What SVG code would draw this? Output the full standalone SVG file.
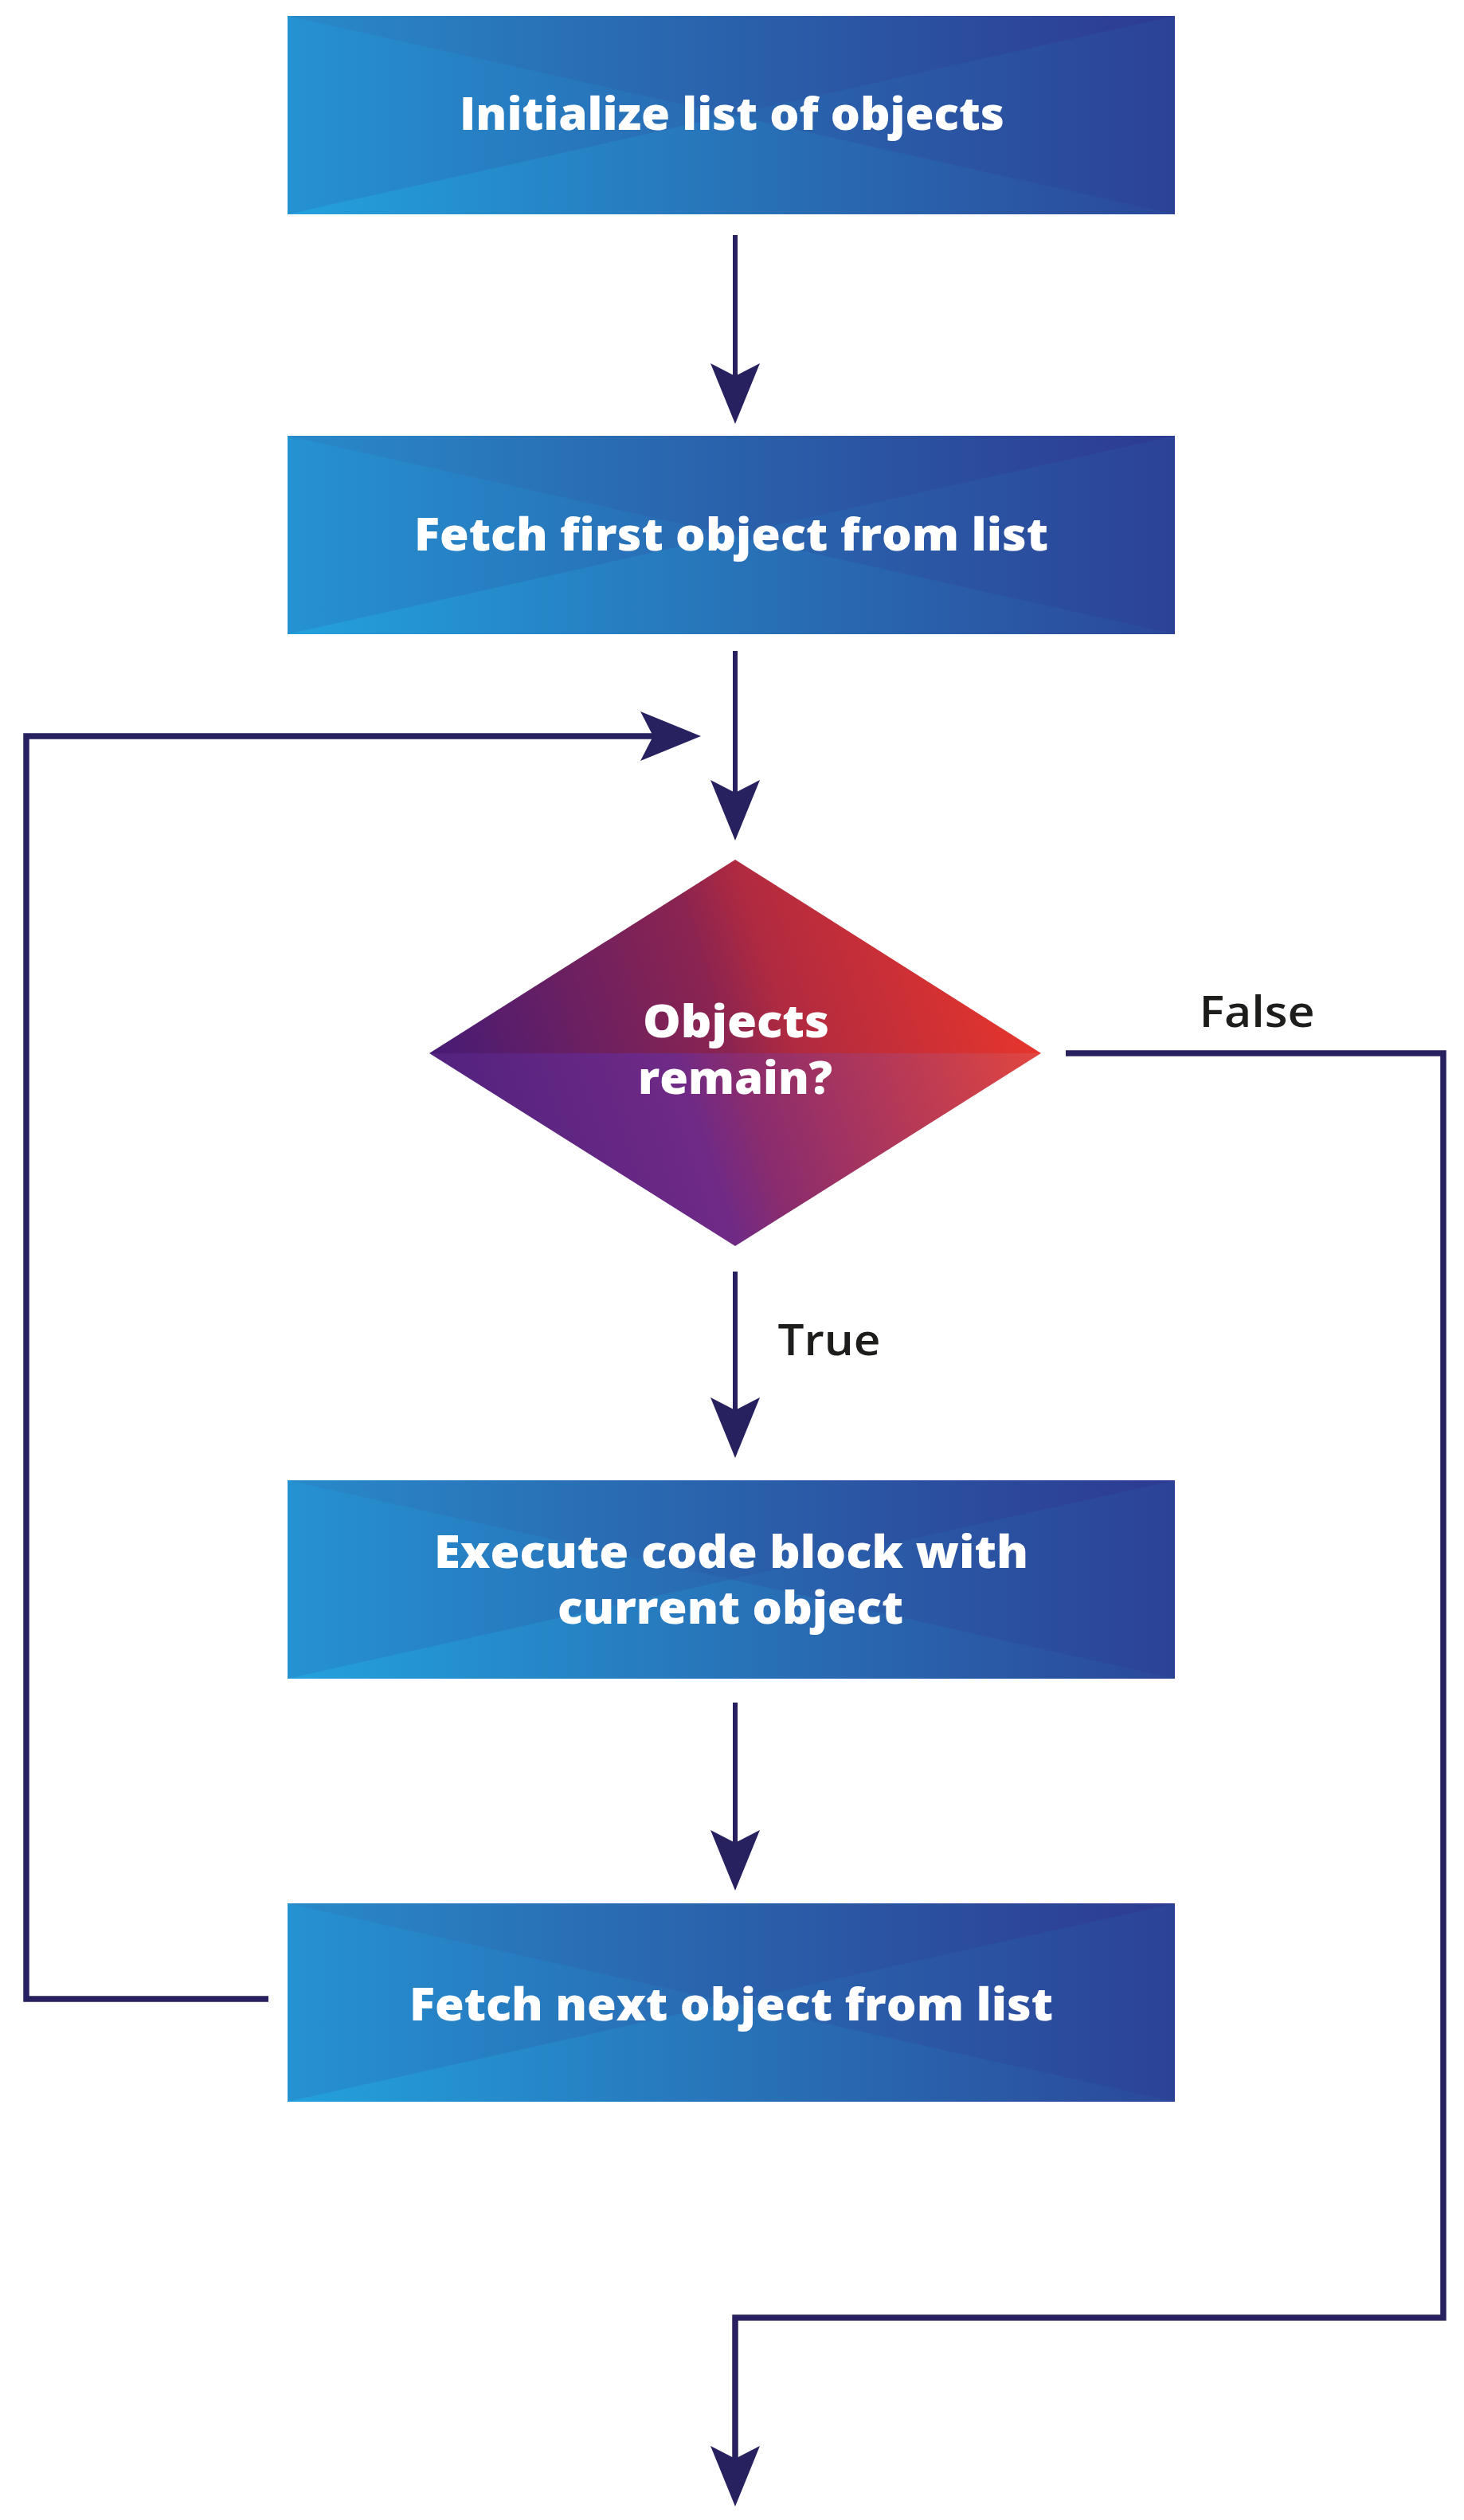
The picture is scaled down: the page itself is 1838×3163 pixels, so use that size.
<svg xmlns="http://www.w3.org/2000/svg" xmlns:xlink="http://www.w3.org/1999/xlink" width="1838" height="3163" viewBox="0 0 1838 3163">
<style>
.bt{font-family:"Open Sans","Liberation Sans",sans-serif;font-weight:800;font-size:56px;fill:#ffffff;text-anchor:middle}
.lb{font-family:"Open Sans","Liberation Sans",sans-serif;font-weight:600;font-size:54px;fill:#1d1d1b;text-anchor:middle}
.ln{fill:none;stroke:#27215f;stroke-width:6}
.lp{fill:none;stroke:#27215f;stroke-width:7.5}
</style>
<defs>
<linearGradient id="gBase" gradientUnits="userSpaceOnUse" x1="0" y1="0" x2="1114" y2="0">
<stop offset="0" stop-color="#2592d1"/><stop offset="0.5" stop-color="#2968b1"/><stop offset="1" stop-color="#2c4296"/>
</linearGradient>
<linearGradient id="gTop" gradientUnits="userSpaceOnUse" x1="0" y1="0" x2="1114" y2="0">
<stop offset="0" stop-color="#2a86c6"/><stop offset="0.5" stop-color="#2a5ea9"/><stop offset="1" stop-color="#2e3690"/>
</linearGradient>
<linearGradient id="gBot" gradientUnits="userSpaceOnUse" x1="0" y1="0" x2="1114" y2="0">
<stop offset="0" stop-color="#22a8e1"/><stop offset="0.5" stop-color="#2778bc"/><stop offset="1" stop-color="#2b4a9b"/>
</linearGradient>
<g id="boxbg">
<rect x="0" y="0" width="1114" height="249" fill="url(#gBase)"/>
<polygon points="0,0 1114,0 557,124.5" fill="url(#gTop)" opacity="0.7"/>
<polygon points="0,249 1114,249 557,124.5" fill="url(#gBot)" opacity="0.7"/>
</g>
<linearGradient id="dTop" gradientUnits="userSpaceOnUse" x1="539" y1="1322" x2="1307" y2="1079">
<stop offset="0" stop-color="#461b75"/><stop offset="0.45" stop-color="#8c2450"/><stop offset="0.545" stop-color="#b02a40"/><stop offset="0.91" stop-color="#e6352c"/>
</linearGradient>
<linearGradient id="dBot" gradientUnits="userSpaceOnUse" x1="539" y1="1322" x2="1307" y2="1079">
<stop offset="0" stop-color="#53227f"/><stop offset="0.364" stop-color="#6f2a86"/><stop offset="0.4545" stop-color="#8a2c6e"/><stop offset="0.91" stop-color="#e2463f"/>
</linearGradient>
<marker id="ah" markerUnits="userSpaceOnUse" viewBox="0 0 76 62" refX="16" refY="31" markerWidth="76" markerHeight="62" orient="auto">
<path d="M0,0 L76,31 L0,62 L16,31 Z" fill="#27215f"/>
</marker>
</defs>

<g id="connectors">
<path class="ln" d="M923 295 V472" marker-end="url(#ah)"/>
<path class="ln" d="M923 817 V995" marker-end="url(#ah)"/>
<path class="ln" d="M923 1596 V1770" marker-end="url(#ah)"/>
<path class="ln" d="M923 2137 V2313" marker-end="url(#ah)"/>
<path class="lp" d="M337 2509 H33 V924 H820" marker-end="url(#ah)"/>
<path class="lp" d="M1338 1322 H1812 V2909 H923 V3086" marker-end="url(#ah)"/>
<text class="lb" x="1578" y="1289" textLength="145" lengthAdjust="spacingAndGlyphs">False</text>
<text class="lb" x="1041" y="1701" textLength="129" lengthAdjust="spacingAndGlyphs">True</text>
</g>

<g id="node-init">
<use xlink:href="#boxbg" href="#boxbg" transform="translate(361,20)"/>
<text class="bt" x="919" y="163" textLength="684" lengthAdjust="spacingAndGlyphs">Initialize list of objects</text>
</g>

<g id="node-fetch-first">
<use xlink:href="#boxbg" href="#boxbg" transform="translate(361,547)"/>
<text class="bt" x="918" y="691" textLength="796" lengthAdjust="spacingAndGlyphs">Fetch first object from list</text>
</g>

<g id="node-decision">
<polygon points="539,1322 923,1079 1307,1322" fill="url(#dTop)"/>
<polygon points="539,1322 923,1564 1307,1322" fill="url(#dBot)"/>
<text class="bt" x="924" y="1302" textLength="234" lengthAdjust="spacingAndGlyphs">Objects</text>
<text class="bt" x="923" y="1373" textLength="244" lengthAdjust="spacingAndGlyphs">remain?</text>
</g>

<g id="node-execute">
<use xlink:href="#boxbg" href="#boxbg" transform="translate(361,1858)"/>
<text class="bt" x="918" y="1968" textLength="746" lengthAdjust="spacingAndGlyphs">Execute code block with</text>
<text class="bt" x="917" y="2038" textLength="434" lengthAdjust="spacingAndGlyphs">current object</text>
</g>

<g id="node-fetch-next">
<use xlink:href="#boxbg" href="#boxbg" transform="translate(361,2389)"/>
<text class="bt" x="918" y="2536" textLength="808" lengthAdjust="spacingAndGlyphs">Fetch next object from list</text>
</g>
</svg>
